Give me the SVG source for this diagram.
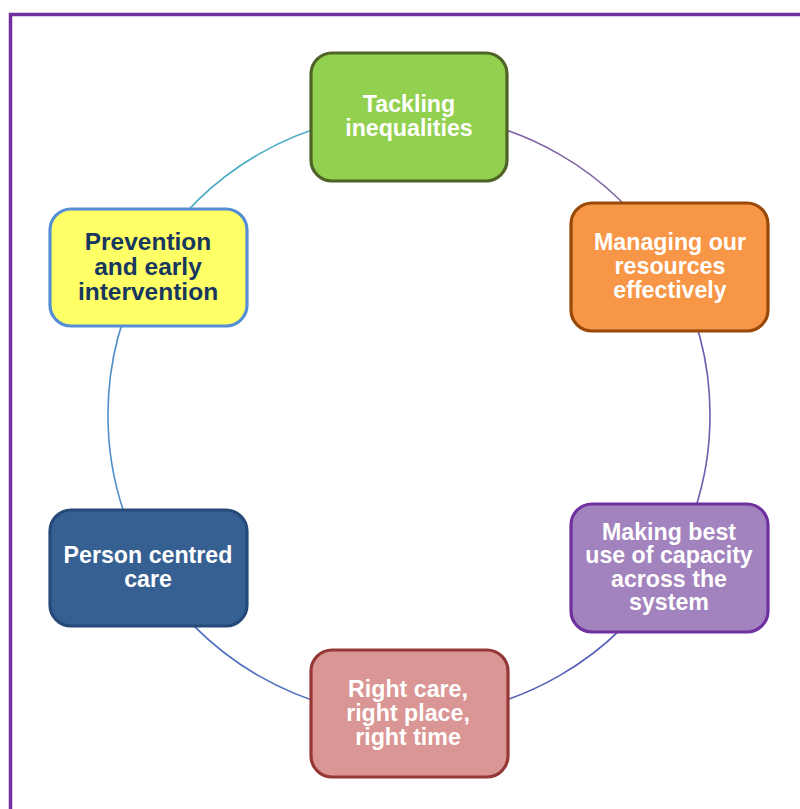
<svg xmlns="http://www.w3.org/2000/svg" width="800" height="809" viewBox="0 0 800 809">
  <style>
    .node rect { stroke-width: 3.2; }
    .node text { font-family: "Liberation Sans", Arial, sans-serif; font-weight: bold; font-size: 23.2px; text-anchor: middle; fill: #ffffff; }
    .node text.dark { fill: #17375e; font-size: 24.5px; }
    .ring path { fill: none; stroke-width: 1.6; }
  </style>
  <rect width="800" height="809" fill="#ffffff"/>
  <!-- outer frame, running off the right and bottom edges -->
  <rect x="10.5" y="14.5" width="900" height="900" fill="none" stroke="#7030a0" stroke-width="3.5"/>

  <!-- cycle ring: one arc between each pair of neighbouring nodes -->
  <g id="connectors" class="ring">
    <path d="M148.3,264.5 A301,301 0 0 1 409,114" stroke="#4bacc6"/>
    <path d="M409,114 A301,301 0 0 1 669.7,264.5" stroke="#8064a2"/>
    <path d="M669.7,264.5 A301,301 0 0 1 669.7,565.5" stroke="#6a5fae"/>
    <path d="M669.7,565.5 A301,301 0 0 1 409,716" stroke="#5560b6"/>
    <path d="M409,716 A301,301 0 0 1 148.3,565.5" stroke="#4f6fc0"/>
    <path d="M148.3,565.5 A301,301 0 0 1 148.3,264.5" stroke="#4f8fc8"/>
  </g>

  <g id="tackling-inequalities" class="node">
    <rect x="311" y="53" width="196" height="128" rx="21" fill="#92d050" stroke="#4f6228"/>
    <text x="409" y="111.5">Tackling</text>
    <text x="409" y="135.5">inequalities</text>
  </g>

  <g id="managing-resources" class="node">
    <rect x="571" y="203" width="197" height="128" rx="21" fill="#f79646" stroke="#984807"/>
    <text x="670" y="250">Managing our</text>
    <text x="670" y="274">resources</text>
    <text x="670" y="298">effectively</text>
  </g>

  <g id="best-use-of-capacity" class="node">
    <rect x="571" y="504" width="197" height="128" rx="21" fill="#a383bd" stroke="#7030a0"/>
    <text x="669" y="539.5">Making best</text>
    <text x="669" y="563">use of capacity</text>
    <text x="669" y="586.5">across the</text>
    <text x="669" y="610">system</text>
  </g>

  <g id="right-care" class="node">
    <rect x="311" y="650" width="197" height="127" rx="21" fill="#d99694" stroke="#953735"/>
    <text x="408" y="697">Right care,</text>
    <text x="408" y="720.5">right place,</text>
    <text x="408" y="744.5">right time</text>
  </g>

  <g id="person-centred-care" class="node">
    <rect x="50" y="510" width="197" height="116" rx="21" fill="#376092" stroke="#254a7a"/>
    <text x="148" y="563">Person centred</text>
    <text x="148" y="587">care</text>
  </g>

  <g id="prevention" class="node">
    <rect x="50" y="209" width="197" height="117" rx="21" fill="#ffff66" stroke="#558ed5"/>
    <text class="dark" x="148" y="249.5">Prevention</text>
    <text class="dark" x="148" y="274.5">and early</text>
    <text class="dark" x="148" y="300">intervention</text>
  </g>
</svg>
